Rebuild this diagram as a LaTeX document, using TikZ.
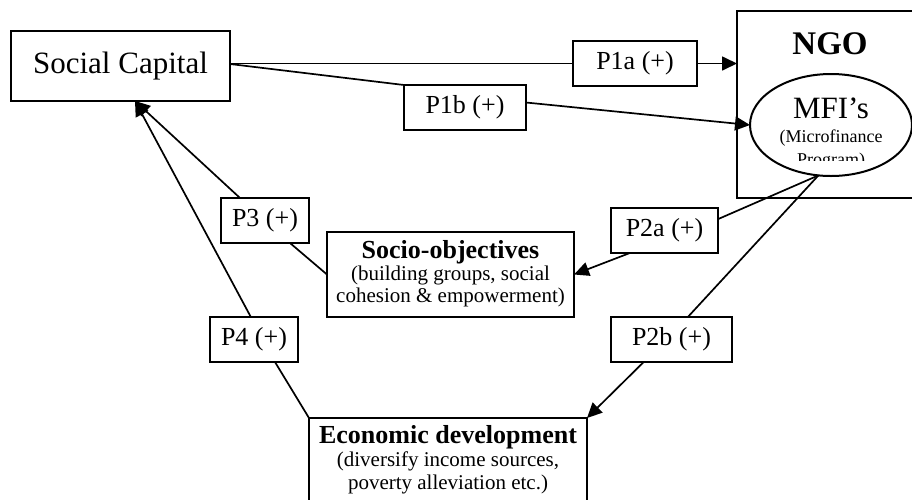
\documentclass[tikz,border=0pt]{standalone}
\usepackage{fontspec}
\setmainfont{Liberation Serif}
\usetikzlibrary{arrows.meta,shapes.geometric,calc}
\begin{document}
\begin{tikzpicture}[x=1pt,y=-1pt,
  box/.style={draw,line width=2pt,inner sep=0pt,outer sep=0pt},
  lab/.style={box,minimum height=45pt,font=\fontsize{26}{30}\selectfont},
  conn/.style={line width=1.7pt},
  arr/.style={conn,-{Triangle[length=15pt,width=14pt]}},
  txt/.style={inner sep=0pt,outer sep=0pt,anchor=base},
  bold/.style={txt,font=\fontsize{26}{30}\selectfont\bfseries},
  reg/.style={txt,font=\fontsize{21}{24}\selectfont}]
\useasboundingbox (0,0) rectangle (912,499);
% main boxes
\node[box,minimum width=219pt,minimum height=70pt,font=\fontsize{31}{36}\selectfont] (sc) at (120.5,66) {Social Capital};
\node[box,minimum width=190pt,minimum height=187pt] (ngo) at (832,104.5) {};
\node[txt,font=\fontsize{33}{36}\selectfont\bfseries] (ngot) at (830,54) {NGO};
\node[draw,ellipse,line width=2pt,inner sep=0pt,outer sep=0pt,minimum width=162pt,minimum height=102pt] (mfi) at (831,125) {};
\node[txt,font=\fontsize{31}{34}\selectfont] (mfit) at (831,118) {MFI’s};
\node[txt,font=\fontsize{18}{20}\selectfont] (mfim) at (831,142) {(Microfinance};
\begin{scope}
\clip (760,148) rectangle (900,160.5);
\node[txt,font=\fontsize{18}{20}\selectfont] (mfip) at (831,165) {Program)};
\end{scope}
\node[box,minimum width=247pt,minimum height=85pt] (so) at (450.5,274.5) {};
\node[bold] (sot1) at (450.5,258) {Socio-objectives};
\node[reg] (sot2) at (450.5,280) {(building groups, social};
\node[reg] (sot3) at (450.5,302) {cohesion \& empowerment)};
\node[box,minimum width=278pt,minimum height=90pt] (ec) at (448,463) {};
\node[bold] (ect1) at (448,443) {Economic development};
\node[reg] (ect2) at (448,466) {(diversify income sources,};
\node[reg] (ect3) at (448,489) {poverty alleviation etc.)};
% label boxes
\node[lab,minimum width=124pt] (p1a) at (635,63.5) {P1a (+)};
\node[lab,minimum width=122pt] (p1b) at (465,107.5) {P1b (+)};
\node[lab,minimum width=107pt] (p2a) at (664.5,230.5) {P2a (+)};
\node[lab,minimum width=121pt] (p2b) at (671.5,339.5) {P2b (+)};
\node[lab,minimum width=88pt] (p3) at (265,220.5) {P3 (+)};
\node[lab,minimum width=88pt] (p4) at (254,339.5) {P4 (+)};
\coordinate (tip) at ($(sc.south)+(14.5,0)$);
% connectors
\draw[conn] (sc.east |- p1a.west) -- (p1a.west);
\draw[arr] (p1a.east) -- (p1a.east -| ngo.west);
\draw[conn] ($(sc.east)+(0,-2)$) -- (p1b.north west);
\draw[arr] ($(p1b.east)+(0,-5)$) -- (mfi.west);
\draw[conn] (mfi.256) -- (p2a.12);
\draw[arr] (p2a.213) -- (so.east);
\draw[conn] (mfi.256) -- (p2b.54);
\draw[arr] (p2b.219) -- (ec.north east);
\draw[conn] (so.west) -- (p3.318);
\draw[arr] (p3.138) -- (tip);
\draw[conn] (ec.north west) -- (p4.313);
\draw[arr] (p4.98) -- (tip);
\end{tikzpicture}
\end{document}
